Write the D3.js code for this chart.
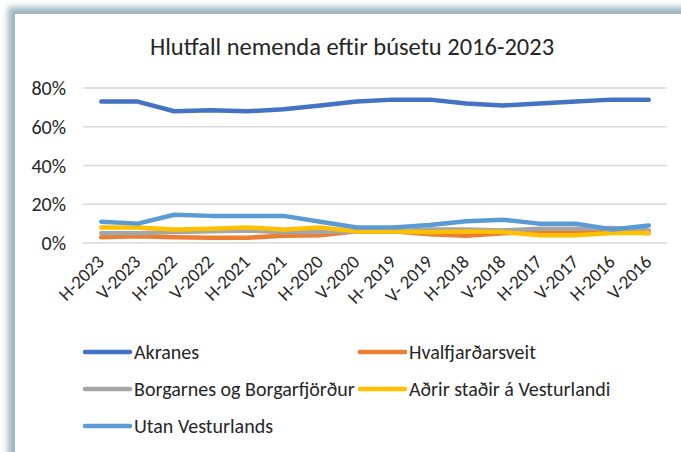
<!DOCTYPE html>
<html>
<head>
<meta charset="utf-8">
<script src="https://cdn.jsdelivr.net/npm/d3@7"></script>
<style>
	body { margin: 0; background: #fff; }
	svg { display: block; font-family: Carlito, Lato, sans-serif; }
</style>
</head>
<body>
<div id="chart"></div>
<script>
var categories = ['H-2023', 'V-2023', 'H-2022', 'V-2022', 'H-2021', 'V-2021', 'H-2020', 'V-2020',
	'H- 2019', 'V- 2019', 'H-2018', 'V-2018', 'H-2017', 'V-2017', 'H-2016', 'V-2016'];

var akranes = [73, 73, 68, 68.5, 68, 69, 71, 73, 74, 74, 72, 71, 72, 73, 74, 74];
var hvalfjardarsveit = [3, 3.5, 3, 2.7, 2.7, 3.8, 4, 6, 6, 4.5, 3.8, 5, 5.7, 6, 6.5, 5];
var borgarnes = [5, 5, 5.7, 6, 6.5, 5.5, 5.7, 6, 6, 7, 7, 6.5, 7.4, 7.4, 7.8, 6.5];
var adrirStadir = [8, 8, 7, 7.4, 8, 7, 8, 6, 6, 5.5, 6, 5.7, 4, 4, 5.2, 5.2];
var utanVesturlands = [11, 10, 14.6, 14, 14, 14, 11, 8, 8, 9.3, 11.2, 12, 10, 10, 7, 9];

var seriesNames = ['Akranes', 'Hvalfjarðarsveit', 'Borgarnes og Borgarfjörður', 'Aðrir staðir á Vesturlandi', 'Utan Vesturlands'];
var seriesColors = ['#4472c4', '#ed7d31', '#a5a5a5', '#ffc000', '#5b9bd5'];
var yTicks = [0, 20, 40, 60, 80];

var W = 681, H = 452;
var plot = { left: 83, right: 667, top: 88, bottom: 243 };

function drawFrame(svg) {
	var defs = svg.append('defs');
	defs.append('filter')
		.attr('id', 'blur')
		.attr('x', '-10%').attr('y', '-10%')
		.attr('width', '120%').attr('height', '120%')
		.append('feGaussianBlur')
		.attr('stdDeviation', 3);

	// soft blue-grey shadow on top and left edge
	svg.append('rect')
		.attr('x', 8).attr('y', 7)
		.attr('width', W + 40).attr('height', H + 40)
		.attr('fill', '#9db7c0')
		.attr('filter', 'url(#blur)');

	svg.append('rect')
		.attr('x', 15).attr('y', 14)
		.attr('width', W).attr('height', H)
		.attr('fill', '#fff');
}

function drawChart() {
	var svg = d3.select('#chart').append('svg')
		.attr('width', W)
		.attr('height', H);

	drawFrame(svg);

	var x = d3.scalePoint()
		.domain(categories)
		.range([plot.left, plot.right])
		.padding(0.5);

	var y = d3.scaleLinear()
		.domain([0, 80])
		.range([plot.bottom, plot.top]);

	svg.append('text')
		.attr('x', 352)
		.attr('y', 55)
		.attr('text-anchor', 'middle')
		.attr('font-size', 24.5)
		.attr('fill', '#262626')
		.text('Hlutfall nemenda eftir búsetu 2016-2023');

	// gridlines
	svg.append('g')
		.selectAll('line')
		.data(yTicks)
		.enter()
		.append('line')
		.attr('x1', plot.left)
		.attr('x2', plot.right)
		.attr('y1', d => y(d))
		.attr('y2', d => y(d))
		.attr('stroke', '#d9d9d9')
		.attr('stroke-width', 1.3);

	svg.append('g')
		.selectAll('text')
		.data(yTicks)
		.enter()
		.append('text')
		.attr('x', 66)
		.attr('y', d => y(d))
		.attr('dy', '0.35em')
		.attr('text-anchor', 'end')
		.attr('font-size', 20)
		.attr('fill', '#262626')
		.text(d => d + '%');

	svg.append('g')
		.selectAll('text')
		.data(categories)
		.enter()
		.append('text')
		.attr('transform', d => 'translate(' + (x(d) + 4) + ',' + 263 + ') rotate(-45)')
		.attr('text-anchor', 'end')
		.attr('font-size', 18.7)
		.attr('fill', '#262626')
		.text(d => d);

	var allSeries = [akranes, hvalfjardarsveit, borgarnes, adrirStadir, utanVesturlands];

	var line = d3.line()
		.x((d, i) => x(categories[i]))
		.y(d => y(d));

	svg.append('g')
		.selectAll('path')
		.data(allSeries)
		.enter()
		.append('path')
		.attr('d', line)
		.attr('fill', 'none')
		.attr('stroke', (d, i) => seriesColors[i])
		.attr('stroke-width', 4.5)
		.attr('stroke-linejoin', 'round')
		.attr('stroke-linecap', 'round');

	// legend, two columns
	var legend = svg.append('g')
		.selectAll('g')
		.data(seriesNames)
		.enter()
		.append('g')
		.attr('transform', (d, i) => 'translate(' + (i % 2 ? 360 : 85) + ',' + (352 + Math.floor(i / 2) * 37) + ')');

	legend.append('line')
		.attr('x1', 0).attr('x2', 45)
		.attr('stroke', (d, i) => seriesColors[i])
		.attr('stroke-width', 4.5)
		.attr('stroke-linecap', 'round');

	legend.append('text')
		.attr('x', 49)
		.attr('dy', '0.35em')
		.attr('font-size', 20)
		.attr('fill', '#262626')
		.text(d => d);
}

window.onload = drawChart;
</script>
</body>
</html>
